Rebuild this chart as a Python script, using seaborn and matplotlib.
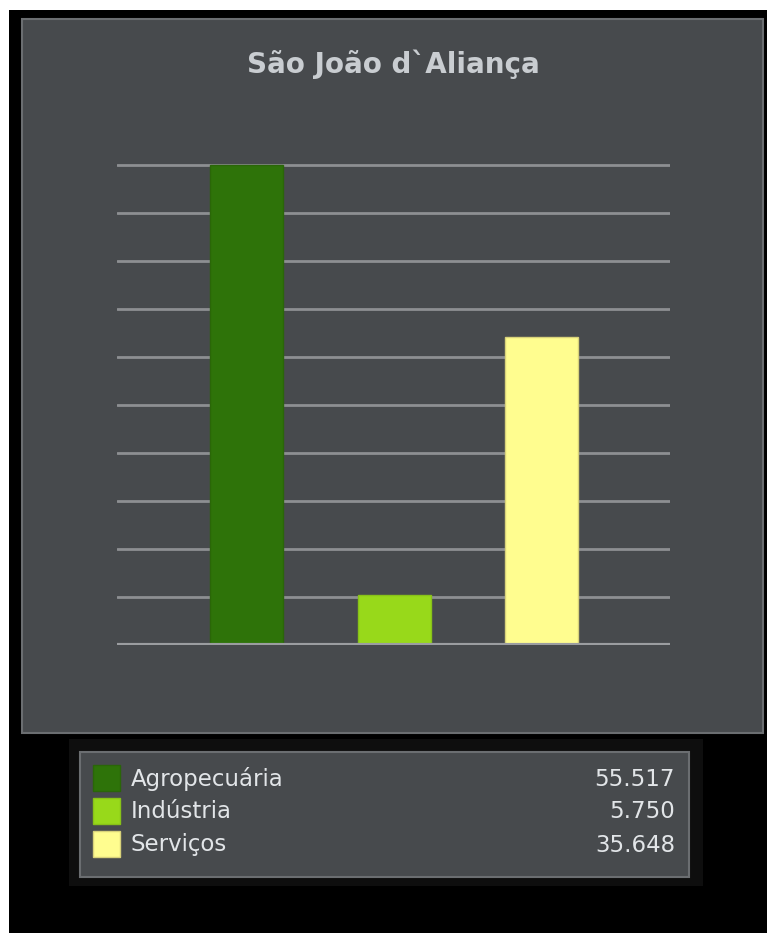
import numpy as np
import pandas as pd
import matplotlib
matplotlib.use("Agg")
import matplotlib.pyplot as plt
from matplotlib.patches import Rectangle
import seaborn as sns

# Data
title = "São João d`Aliança"
categories = ["Agropecuária", "Indústria", "Serviços"]
values = [55.517, 5.750, 35.648]
colors = ["#2e7309", "#98d91a", "#fffd8f"]
edge_colors = ["#2a6608", "#88c218", "#d8d27a"]

W, H = 767, 933
sns.set_theme(style="white")
plt.rcParams["font.family"] = ["DejaVu Sans"]

fig = plt.figure(figsize=(W / 100, H / 100), dpi=100)
fig.patch.set_facecolor("white")


def px_rect(x0, y0, x1, y1, **kw):
    """Rectangle given in pixel coordinates measured from the top-left corner."""
    r = Rectangle((x0 / W, 1 - y1 / H), (x1 - x0) / W, (y1 - y0) / H,
                  transform=fig.transFigure, figure=fig, **kw)
    fig.patches.append(r)
    return r


PANEL = "#474a4d"
BORDER = "#6b6e71"

# Backgrounds
px_rect(9, 10, 767, 933, facecolor="#000000", edgecolor="none", zorder=0)
px_rect(22, 19, 763, 733, facecolor=PANEL, edgecolor=BORDER, linewidth=1.5, zorder=1)
px_rect(69, 739, 703, 886, facecolor="#0e0e0e", edgecolor="none", zorder=1)
px_rect(80, 752, 689, 877, facecolor=PANEL, edgecolor=BORDER, linewidth=1.5, zorder=2)

fig.text(393 / W, 1 - 64 / H, title, ha="center", va="center",
         fontsize=20, fontweight="bold", color="#c9cdd1", zorder=5)

# Chart axes
ymax = values[0]
top_px, base_px = 160, 645
ax = fig.add_axes([117 / W, 1 - base_px / H, (670 - 117) / W, (base_px - top_px) / H])
ax.set_zorder(10)
ax.set_facecolor("none")
df = pd.DataFrame({"categoria": categories, "valor": values})
sns.barplot(data=df, x="categoria", y="valor", hue="categoria", palette=colors,
            width=0.495, legend=False, ax=ax, zorder=3, saturation=1)
for patch, ec in zip(ax.patches, edge_colors):
    patch.set_edgecolor(ec)
    patch.set_linewidth(1.0)

ax.set_ylim(0, ymax * (base_px - top_px) / (base_px - 165))
ax.set_xlim(-0.878, 2.871)
ax.set_yticks(np.linspace(0, ymax, 11))
ax.yaxis.grid(True, color="#8d8f92", linewidth=2)
ax.set_axisbelow(True)
ax.axhline(0, color="#9b9da0", linewidth=3, zorder=4)
for s in ax.spines.values():
    s.set_visible(False)
ax.set_xticks([])
ax.set_yticklabels([])
ax.tick_params(left=False, bottom=False)
ax.set_xlabel("")
ax.set_ylabel("")

# Legend with values
for i, (cat, val, c, ec) in enumerate(zip(categories, values, colors, edge_colors)):
    y0 = 765 + i * 33
    px_rect(93, y0, 120, y0 + 26, facecolor=c, edgecolor=ec, linewidth=1, zorder=3)
    yc = 1 - (y0 + 14) / H
    fig.text(131 / W, yc, cat, ha="left", va="center", fontsize=16.5,
             color="#e2e5e8", zorder=5)
    fig.text(675 / W, yc, f"{val:.3f}", ha="right", va="center", fontsize=16.5,
             color="#e2e5e8", zorder=5)

fig.savefig("out.png", dpi=100, facecolor=fig.get_facecolor())
